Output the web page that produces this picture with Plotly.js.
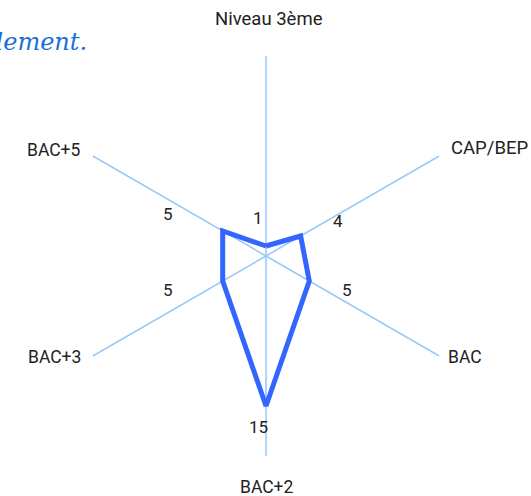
<!DOCTYPE html>
<html>
<head>
<meta charset="utf-8">
<script src="https://cdn.plot.ly/plotly-3.0.1.min.js"></script>
<style>html,body{margin:0;padding:0;background:#fff;}#chart{width:531px;height:496px;}</style>
</head>
<body>
<div id="chart"></div>
<script>
const categories = ["Niveau 3ème", "CAP/BEP", "BAC", "BAC+2", "BAC+3", "BAC+5"];
const values = [1, 4, 5, 15, 5, 5];
const titleText = "Niveau de diplôme obtenu globalement.";

const W = 531, H = 496;
const px = (x) => x / W;
const py = (y) => 1 - y / H;

// label positions (pixel centres) for value labels and category labels
const valuePos = [[258,218],[338,221],[347,290],[258,427],[168,290],[168,214]];
const catPos = [[269,19],[489,148],[465,357],[267,487],[54,357],[54,150]];

const annotations = [];
values.forEach((v, i) => annotations.push({
  xref: 'paper', yref: 'paper', x: px(valuePos[i][0]), y: py(valuePos[i][1]),
  xanchor: 'center', yanchor: 'middle', showarrow: false, text: String(v),
  font: {family: 'Roboto, Liberation Sans, sans-serif', size: 17, color: '#222'}
}));
categories.forEach((c, i) => annotations.push({
  xref: 'paper', yref: 'paper', x: px(catPos[i][0]), y: py(catPos[i][1]),
  xanchor: 'center', yanchor: 'middle', showarrow: false, text: c,
  font: {family: 'Roboto, Liberation Sans, sans-serif', size: i === 0 || i === 1 ? 18.5 : 17.5, color: '#222'}
}));
annotations.push({
  xref: 'paper', yref: 'paper', x: px(89), y: py(42), xanchor: 'right', yanchor: 'middle',
  showarrow: false, text: titleText,
  font: {family: 'DejaVu Serif, serif', size: 24, color: '#1a6fd8', style: 'italic'}
});

const trace = {
  type: 'scatterpolar',
  r: values.concat([values[0]]),
  theta: categories.concat([categories[0]]),
  mode: 'lines',
  line: {color: '#3366ff', width: 5},
  hoverinfo: 'none'
};

const layout = {
  width: W, height: H,
  margin: {l: 0, r: 0, t: 0, b: 0},
  paper_bgcolor: '#fff',
  showlegend: false,
  annotations: annotations,
  polar: {
    domain: {x: [px(66), px(466)], y: [py(456), py(56)]},
    bgcolor: 'rgba(0,0,0,0)',
    radialaxis: {range: [0, 20], visible: false, showgrid: false},
    angularaxis: {
      direction: 'clockwise', rotation: 90,
      showline: false, showticklabels: false, ticks: '',
      showgrid: true, gridcolor: '#99c9f8', gridwidth: 1.5
    }
  }
};

Plotly.newPlot('chart', [trace], layout, {displayModeBar: false, staticPlot: true});
</script>
</body>
</html>
